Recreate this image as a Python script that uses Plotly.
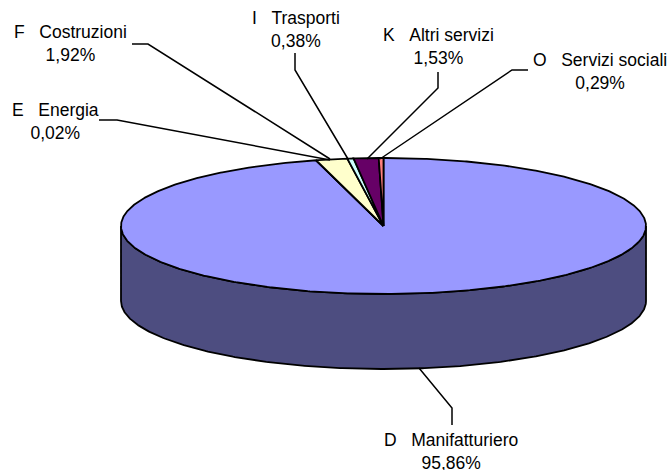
"""3D-look pie of sector shares, drawn as filled polygons on pixel-scaled axes."""

import numpy as np
import plotly.graph_objects as go

CATEGORIES = ["D\u00a0\u00a0\u00a0Manifatturiero", "E\u00a0\u00a0\u00a0Energia", "F\u00a0\u00a0\u00a0Costruzioni", "I\u00a0\u00a0\u00a0Trasporti", "K\u00a0\u00a0\u00a0Altri servizi", "O\u00a0\u00a0\u00a0Servizi sociali"]
SHARES = [95.86, 0.02, 1.92, 0.38, 1.53, 0.29]
SHARE_LABELS = ["95,86%", "0,02%", "1,92%", "0,38%", "1,53%", "0,29%"]

COLORS = ["#9999FF", "#993366", "#FFFFCC", "#CCFFFF", "#660066", "#FF8080"]
SIDE_COLOR = "#4D4D80"

# pie geometry, in page pixels
CX, CY, RX, RY, DEPTH = 383.5, 226, 262.5, 68, 75

# label centres and leader polylines, in page pixels
LABEL_POS = [(451, 451), (55, 121), (70, 43), (296, 29), (438, 46), (600, 71)]
LEADERS = [
    [(419, 368), (452, 408), (452, 425)],
    [(99, 120), (117, 120), (330, 160)],
    [(132, 44), (148, 44), (330, 159)],
    [(295, 53), (295, 70), (348, 159)],
    [(438, 72), (438, 88), (367, 159)],
    [(528, 70), (512, 70), (380, 159)],
]


def wedge(start, end):
    """Polygon of a slice between two clockwise angles measured from 12 o'clock."""
    t = np.radians(np.linspace(start, end, max(2, int(abs(end - start) * 2) + 2)))
    xs = CX + RX * np.sin(t)
    ys = CY - RY * np.cos(t)
    return np.r_[CX, xs, CX], np.r_[CY, ys, CY]


fig = go.Figure()

# front wall of the cylinder
t = np.radians(np.linspace(90, 270, 361))
front_x = CX + RX * np.sin(t)
front_y = CY - RY * np.cos(t)
fig.add_trace(
    go.Scatter(
        x=np.r_[front_x, front_x[::-1], front_x[0]],
        y=np.r_[front_y, front_y[::-1] + DEPTH, front_y[0]],
        mode="lines",
        fill="toself",
        fillcolor=SIDE_COLOR,
        line=dict(color="black", width=1.8),
        hoverinfo="skip",
    )
)

# top face, clockwise from 12 o'clock
total = sum(SHARES)
angle = 0.0
for share, color in zip(SHARES, COLORS):
    sweep = share / total * 360
    wx, wy = wedge(angle, angle + sweep)
    fig.add_trace(
        go.Scatter(
            x=wx,
            y=wy,
            mode="lines",
            fill="toself",
            fillcolor=color,
            line=dict(color="black", width=1.8),
            hoverinfo="skip",
        )
    )
    angle += sweep

for points in LEADERS:
    fig.add_trace(
        go.Scatter(
            x=[p[0] for p in points],
            y=[p[1] for p in points],
            mode="lines",
            line=dict(color="black", width=1.5),
            hoverinfo="skip",
        )
    )

for name, share, (lx, ly) in zip(CATEGORIES, SHARE_LABELS, LABEL_POS):
    fig.add_annotation(
        x=lx,
        y=ly,
        text=f"{name}<br>{share}",
        showarrow=False,
        align="center",
        font=dict(family="Liberation Sans, Arial, sans-serif", size=17.5, color="black"),
    )

fig.update_layout(
    width=672,
    height=470,
    margin=dict(l=0, r=0, t=0, b=0),
    paper_bgcolor="white",
    plot_bgcolor="white",
    showlegend=False,
    xaxis=dict(range=[0, 672], visible=False, fixedrange=True),
    yaxis=dict(range=[470, 0], visible=False, fixedrange=True),
)

# the page's default body margin would push the figure 8px down and right
fig.write_html(
    "out.html",
    config={"displayModeBar": False},
    post_script="document.body.style.margin = '0';",
)
